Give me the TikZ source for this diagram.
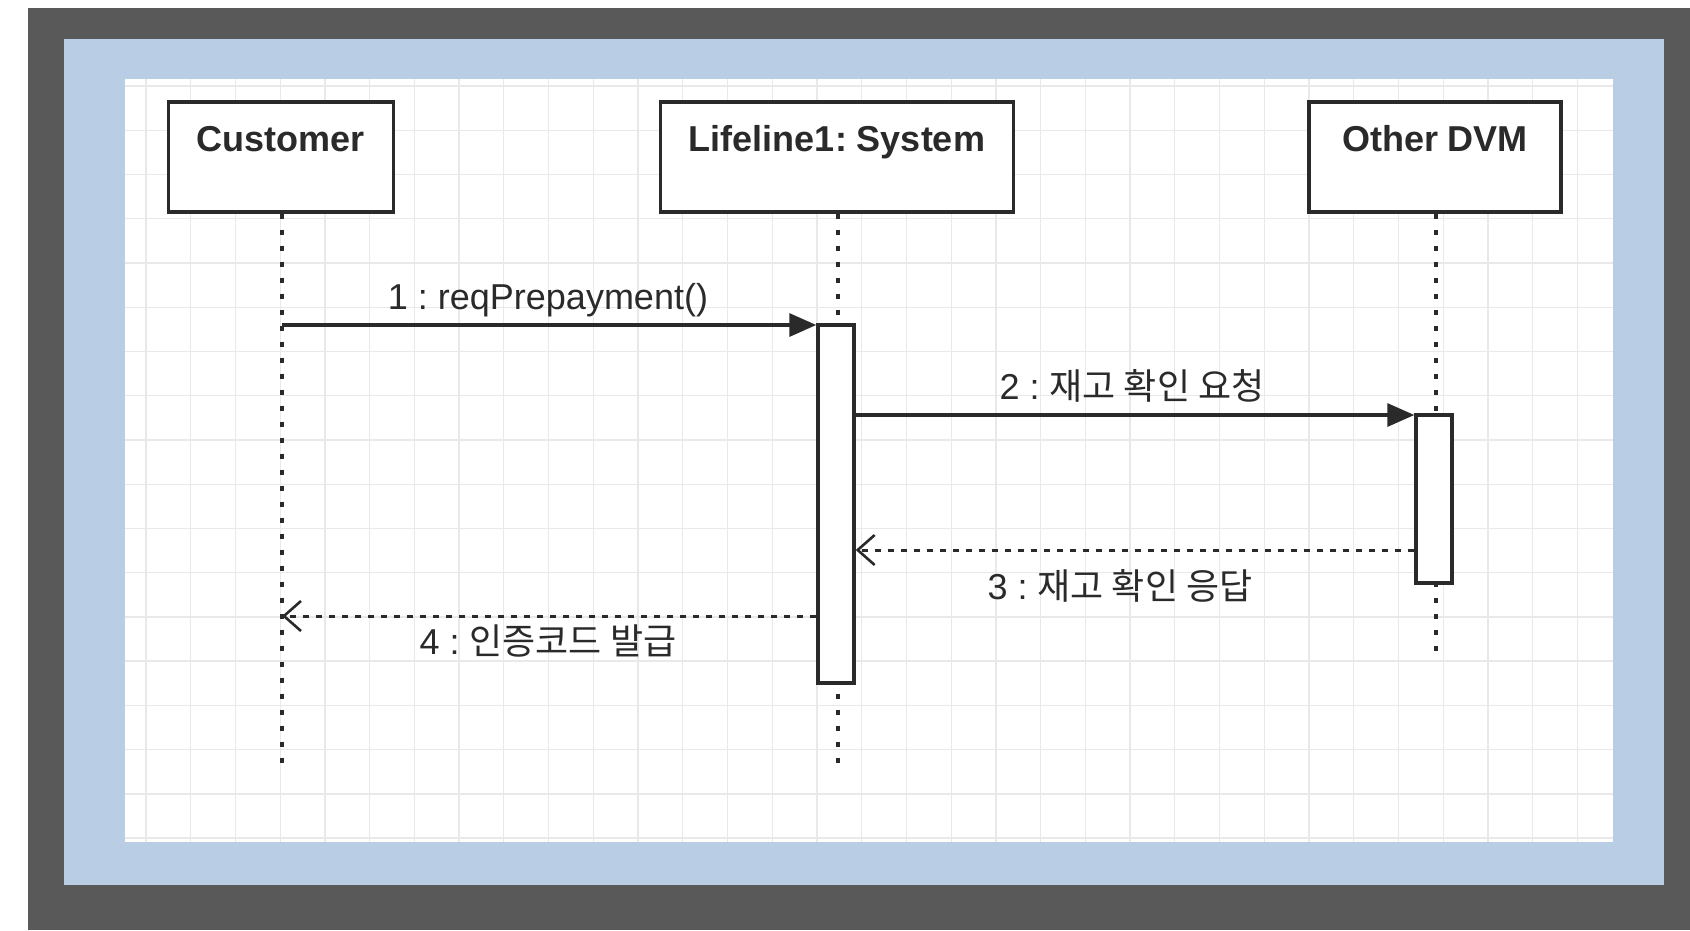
\documentclass[tikz,border=0pt]{standalone}
\usepackage{fontspec}
\setmainfont{Liberation Sans}
\newfontfamily\cjk{Noto Sans CJK KR}
\usetikzlibrary{arrows.meta}
\definecolor{frame}{HTML}{595959}
\definecolor{paper}{HTML}{B9CDE5}
\definecolor{gridc}{HTML}{E9E9E9}
\definecolor{ink}{HTML}{2A2A2A}
\begin{document}
\frenchspacing
\begin{tikzpicture}[x=1pt,y=-1pt,
  actorbox/.style={draw=ink, line width=3.4pt, fill=white, minimum width=#1, minimum height=110pt, inner sep=0pt},
  actorname/.style={font=\fontsize{36}{40}\selectfont\bfseries, text=ink, inner sep=0pt, anchor=base},
  actbar/.style={draw=ink, line width=3.4pt, fill=white, minimum width=36pt, minimum height=#1, inner sep=0pt},
  lifeline/.style={draw=ink, line width=3.6pt, dash pattern=on 5pt off 11pt},
  callmsg/.style={draw=ink, line width=3.2pt, -{Triangle[length=27pt,width=23pt]}},
  retmsg/.style={draw=ink, line width=3pt, dash pattern=on 6pt off 7pt, -{Straight Barb[length=17pt,width=30pt,line width=2.6pt]}},
  msglabel/.style={font=\fontsize{36}{40}\selectfont, text=ink, inner sep=0pt, anchor=base},
  gridline/.style={draw=gridc, line width=1.3pt}
]
\useasboundingbox (0,0) rectangle (1690,930);
\fill[white] (0,0) rectangle (1690,930);
\fill[frame] (28,8) rectangle (1690,930);
\fill[paper] (64,39) rectangle (1664,885);
\fill[white] (125,79) rectangle (1613,842);
% grid
\foreach \i in {0,...,32} \draw[gridline] ({146+\i*44.73},79) -- ({146+\i*44.73},842);
\foreach \j in {0,...,17} \draw[gridline] (125,{86+\j*44.24}) -- (1613,{86+\j*44.24});
% actors
\node[actorbox=225pt] (cust) at (281,157) {};
\node[actorbox=353pt] (sys) at (837,157) {};
\node[actorbox=252pt] (dvm) at (1435,157) {};
\node[actorname] (custname) at (281,151) {Customer};
\node[actorname] (sysname) at (837,151) {Lifeline1: System};
\node[actorname] (dvmname) at (1435,151) {Other DVM};
% lifelines
\coordinate (custend) at (282,773);
\coordinate (sysend) at (838,773);
\coordinate (dvmend) at (1436,657);
\draw[lifeline] (cust.south -| custend) -- (custend);
\draw[lifeline] (sys.south -| sysend) -- (sysend);
\draw[lifeline] (dvm.south -| dvmend) -- (dvmend);
% activations
\node[actbar=358pt] (sysact) at (836,504) {};
\node[actbar=168pt] (dvmact) at (1434,499) {};
% message rows
\coordinate (m1) at (0,325);
\coordinate (m2) at (0,415);
\coordinate (m3) at (0,550);
\coordinate (m4) at (0,616);
\draw[callmsg] (custend |- m1) -- (sysact.west |- m1);
\draw[callmsg] (sysact.east |- m2) -- (dvmact.west |- m2);
\draw[retmsg] (dvmact.west |- m3) -- (sysact.east |- m3);
\draw[retmsg] (sysact.west |- m4) -- (custend |- m4);
% labels
\node[msglabel] (l1) at (548,309) {1 : reqPrepayment()};
\node[msglabel] (l2) at (1132,399) {2 : {\cjk 재고 확인 요청}};
\node[msglabel] (l3) at (1120,599) {3 : {\cjk 재고 확인 응답}};
\node[msglabel] (l4) at (548,654) {4 : {\cjk 인증코드 발급}};
\end{tikzpicture}
\end{document}
